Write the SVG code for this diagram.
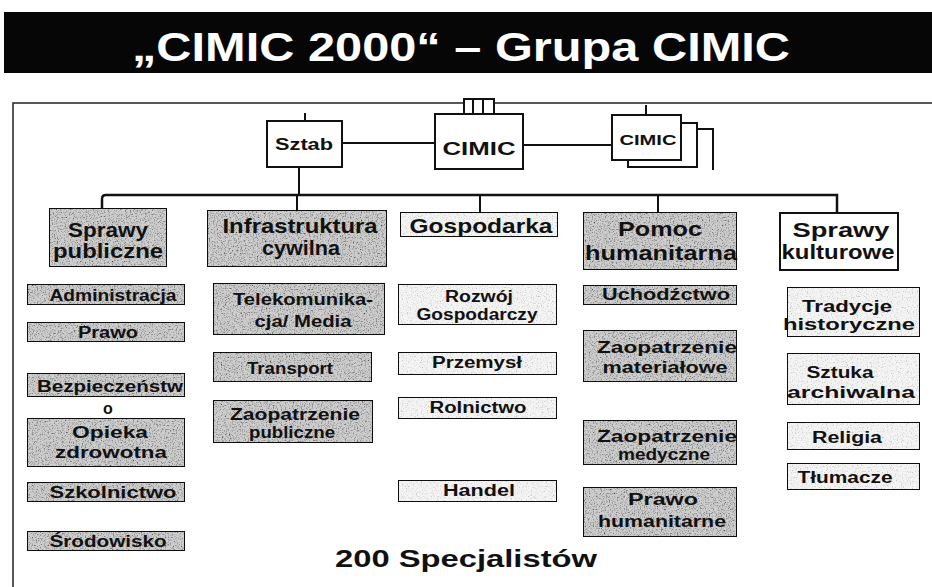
<svg xmlns="http://www.w3.org/2000/svg" width="932" height="587" viewBox="0 0 932 587">
  <defs>
    <style>
      .box { stroke: #111; stroke-width: 2; }
      .g { fill: #d0d0d0; filter: url(#grain); }
      .w { fill: #f4f4f4; filter: url(#grainLight); }
      .wh { fill: #ffffff; }
      .t { font-family: "Liberation Sans", Arial, sans-serif; font-weight: bold; text-anchor: middle; fill: #111; }
      .h { font-size: 21px; }
      .s { font-size: 16px; }
      .ln { fill: none; stroke: #111; stroke-width: 2; }
      .bus { fill: none; stroke: #111; stroke-width: 2.5; }
    </style>
    <!-- speckled halftone fill for the shaded boxes -->
    <filter id="grain" x="0" y="0" width="100%" height="100%">
      <feTurbulence type="fractalNoise" baseFrequency="0.75" numOctaves="2" seed="4" result="n"/>
      <feColorMatrix in="n" type="matrix" values="2.2 0 0 0 -0.2  2.2 0 0 0 -0.2  2.2 0 0 0 -0.2  0 0 0 0 1" result="ng"/>
      <feComposite in="ng" in2="SourceGraphic" operator="in" result="nc"/>
      <feBlend in="SourceGraphic" in2="nc" mode="multiply"/>
    </filter>
    <filter id="grainLight" x="0" y="0" width="100%" height="100%">
      <feTurbulence type="fractalNoise" baseFrequency="0.8" numOctaves="2" seed="9" result="n"/>
      <feColorMatrix in="n" type="matrix" values="1.4 0 0 0 0.35  1.4 0 0 0 0.35  1.4 0 0 0 0.35  0 0 0 0 1" result="ng"/>
      <feComposite in="ng" in2="SourceGraphic" operator="in" result="nc"/>
      <feBlend in="SourceGraphic" in2="nc" mode="multiply"/>
    </filter>
  </defs>

  <rect width="932" height="587" fill="#ffffff"/>

  <!-- Title band -->
  <g id="title">
    <rect x="4" y="12" width="928" height="61" fill="#060606"/>
    <text x="461" y="61" font-family="Liberation Sans, Arial, sans-serif" font-weight="bold" font-size="40" fill="#ffffff" text-anchor="middle" textLength="658" lengthAdjust="spacingAndGlyphs">„CIMIC 2000“ – Grupa CIMIC</text>
  </g>

  <!-- Frame -->
  <path d="M13,587 V103 H932" fill="none" stroke="#222" stroke-width="1.5"/>

  <!-- Connectors -->
  <g id="connectors">
    <path class="ln" d="M305,113 V121"/>
    <path class="ln" d="M646,105 V115"/>
    <path class="ln" d="M342,143 H435"/>
    <path class="ln" d="M523,145 H612"/>
    <path class="ln" d="M299,167 V195"/>
    <path class="bus" d="M102,208 V199 Q102,195 106,195 H837 V212"/>
    <path class="ln" d="M297,195 V210"/>
    <path class="ln" d="M480,195 V212"/>
    <path class="ln" d="M658,195 V212"/>
  </g>

  <!-- Command level -->
  <g id="sztab">
    <rect class="box wh" x="267" y="121" width="75" height="46"/>
    <text class="t" x="304" y="150" font-size="16" textLength="58" lengthAdjust="spacingAndGlyphs">Sztab</text>
  </g>
  <g id="cimic-main">
    <rect class="box wh" x="464" y="99" width="30" height="15" stroke-width="1.5"/>
    <path class="ln" d="M473,99 V114 M483,99 V114" stroke-width="1.5"/>
    <rect class="box wh" x="435" y="114" width="88" height="55"/>
    <text class="t" x="479" y="155" font-size="18" textLength="73" lengthAdjust="spacingAndGlyphs">CIMIC</text>
  </g>
  <g id="cimic-units">
    <path class="ln" d="M697,129 H713 V170"/>
    <path class="ln" d="M681,123 H697 V167 H628 V160"/>
    <rect class="box wh" x="612" y="115" width="69" height="45"/>
    <text class="t" x="648" y="145" font-size="14" textLength="57" lengthAdjust="spacingAndGlyphs">CIMIC</text>
  </g>

  <!-- Column 1: Sprawy publiczne -->
  <g id="sprawy-publiczne">
    <rect class="box g" x="49" y="208" width="118" height="59"/>
    <text class="t h" x="108" y="237" textLength="80" lengthAdjust="spacingAndGlyphs">Sprawy</text>
    <text class="t h" x="108" y="258" textLength="110" lengthAdjust="spacingAndGlyphs">publiczne</text>
  </g>
  <g id="administracja">
    <rect class="box g" x="27" y="284" width="158" height="21"/>
    <text class="t s" x="113" y="301" textLength="127" lengthAdjust="spacingAndGlyphs">Administracja</text>
  </g>
  <g id="prawo">
    <rect class="box g" x="27" y="322" width="158" height="20"/>
    <text class="t s" x="108" y="338" textLength="60" lengthAdjust="spacingAndGlyphs">Prawo</text>
  </g>
  <g id="bezpieczenstwo">
    <rect class="box g" x="27" y="373" width="158" height="24"/>
    <text class="t s" x="110" y="392" textLength="146" lengthAdjust="spacingAndGlyphs">Bezpieczeństw</text>
    <text class="t s" x="108" y="414">o</text>
  </g>
  <g id="opieka">
    <rect class="box g" x="27" y="418" width="158" height="49"/>
    <text class="t s" x="110" y="438" textLength="76" lengthAdjust="spacingAndGlyphs">Opieka</text>
    <text class="t s" x="111" y="458" textLength="112" lengthAdjust="spacingAndGlyphs">zdrowotna</text>
  </g>
  <g id="szkolnictwo">
    <rect class="box g" x="27" y="482" width="158" height="20"/>
    <text class="t s" x="113" y="498" textLength="127" lengthAdjust="spacingAndGlyphs">Szkolnictwo</text>
  </g>
  <g id="srodowisko">
    <rect class="box g" x="27" y="531" width="158" height="20"/>
    <text class="t s" x="108" y="547" textLength="117" lengthAdjust="spacingAndGlyphs">Środowisko</text>
  </g>

  <!-- Column 2: Infrastruktura cywilna -->
  <g id="infrastruktura">
    <rect class="box g" x="207" y="210" width="180" height="57"/>
    <text class="t h" x="300" y="233" textLength="155" lengthAdjust="spacingAndGlyphs">Infrastruktura</text>
    <text class="t h" x="301" y="255" textLength="78" lengthAdjust="spacingAndGlyphs">cywilna</text>
  </g>
  <g id="telekomunikacja">
    <rect class="box g" x="213" y="283" width="172" height="52"/>
    <text class="t s" x="303" y="305" textLength="140" lengthAdjust="spacingAndGlyphs">Telekomunika-</text>
    <text class="t s" x="303" y="327" textLength="97" lengthAdjust="spacingAndGlyphs">cja/ Media</text>
  </g>
  <g id="transport">
    <rect class="box g" x="213" y="352" width="159" height="30"/>
    <text class="t s" x="290" y="374" textLength="86" lengthAdjust="spacingAndGlyphs">Transport</text>
  </g>
  <g id="zaopatrzenie-publiczne">
    <rect class="box g" x="213" y="400" width="160" height="43"/>
    <text class="t s" x="295" y="420" textLength="130" lengthAdjust="spacingAndGlyphs">Zaopatrzenie</text>
    <text class="t s" x="292" y="438" textLength="86" lengthAdjust="spacingAndGlyphs">publiczne</text>
  </g>

  <!-- Column 3: Gospodarka -->
  <g id="gospodarka">
    <rect class="box w" x="400" y="212" width="158" height="25"/>
    <text class="t h" x="481" y="233" textLength="143" lengthAdjust="spacingAndGlyphs">Gospodarka</text>
  </g>
  <g id="rozwoj">
    <rect class="box w" x="398" y="284" width="159" height="41"/>
    <text class="t s" x="479" y="302" textLength="68" lengthAdjust="spacingAndGlyphs">Rozwój</text>
    <text class="t s" x="477" y="320" textLength="121" lengthAdjust="spacingAndGlyphs">Gospodarczy</text>
  </g>
  <g id="przemysl">
    <rect class="box w" x="398" y="352" width="159" height="23"/>
    <text class="t s" x="477" y="368" textLength="90" lengthAdjust="spacingAndGlyphs">Przemysł</text>
  </g>
  <g id="rolnictwo">
    <rect class="box w" x="398" y="397" width="159" height="22"/>
    <text class="t s" x="478" y="413" textLength="97" lengthAdjust="spacingAndGlyphs">Rolnictwo</text>
  </g>
  <g id="handel">
    <rect class="box w" x="398" y="480" width="159" height="22"/>
    <text class="t s" x="479" y="496" textLength="72" lengthAdjust="spacingAndGlyphs">Handel</text>
  </g>

  <!-- Column 4: Pomoc humanitarna -->
  <g id="pomoc-humanitarna">
    <rect class="box g" x="583" y="212" width="154" height="58"/>
    <text class="t h" x="660" y="236" textLength="84" lengthAdjust="spacingAndGlyphs">Pomoc</text>
    <text class="t h" x="661" y="260" textLength="152" lengthAdjust="spacingAndGlyphs">humanitarna</text>
  </g>
  <g id="uchodzctwo">
    <rect class="box g" x="583" y="285" width="154" height="20"/>
    <text class="t s" x="666" y="300" textLength="128" lengthAdjust="spacingAndGlyphs">Uchodźctwo</text>
  </g>
  <g id="zaopatrzenie-materialowe">
    <rect class="box g" x="583" y="330" width="154" height="52"/>
    <text class="t s" x="667" y="353" textLength="140" lengthAdjust="spacingAndGlyphs">Zaopatrzenie</text>
    <text class="t s" x="665" y="373" textLength="125" lengthAdjust="spacingAndGlyphs">materiałowe</text>
  </g>
  <g id="zaopatrzenie-medyczne">
    <rect class="box g" x="583" y="420" width="154" height="45"/>
    <text class="t s" x="667" y="442" textLength="140" lengthAdjust="spacingAndGlyphs">Zaopatrzenie</text>
    <text class="t s" x="664" y="460" textLength="92" lengthAdjust="spacingAndGlyphs">medyczne</text>
  </g>
  <g id="prawo-humanitarne">
    <rect class="box g" x="583" y="487" width="154" height="50"/>
    <text class="t s" x="663" y="505" textLength="70" lengthAdjust="spacingAndGlyphs">Prawo</text>
    <text class="t s" x="662" y="527" textLength="128" lengthAdjust="spacingAndGlyphs">humanitarne</text>
  </g>

  <!-- Column 5: Sprawy kulturowe -->
  <g id="sprawy-kulturowe">
    <rect class="box wh" x="780" y="213" width="118" height="57"/>
    <text class="t h" x="841" y="237" textLength="97" lengthAdjust="spacingAndGlyphs">Sprawy</text>
    <text class="t h" x="838" y="259" textLength="113" lengthAdjust="spacingAndGlyphs">kulturowe</text>
  </g>
  <g id="tradycje">
    <rect class="box w" x="787" y="287" width="133" height="50"/>
    <text class="t s" x="847" y="312" textLength="90" lengthAdjust="spacingAndGlyphs">Tradycje</text>
    <text class="t s" x="849" y="330" textLength="132" lengthAdjust="spacingAndGlyphs">historyczne</text>
  </g>
  <g id="sztuka">
    <rect class="box w" x="787" y="353" width="133" height="52"/>
    <text class="t s" x="840" y="378" textLength="67" lengthAdjust="spacingAndGlyphs">Sztuka</text>
    <text class="t s" x="851" y="398" textLength="128" lengthAdjust="spacingAndGlyphs">archiwalna</text>
  </g>
  <g id="religia">
    <rect class="box w" x="787" y="422" width="133" height="28"/>
    <text class="t s" x="847" y="443" textLength="70" lengthAdjust="spacingAndGlyphs">Religia</text>
  </g>
  <g id="tlumacze">
    <rect class="box w" x="787" y="463" width="133" height="27"/>
    <text class="t s" x="845" y="483" textLength="95" lengthAdjust="spacingAndGlyphs">Tłumacze</text>
  </g>

  <!-- Footer -->
  <text class="t" x="466" y="567" font-size="24" textLength="262" lengthAdjust="spacingAndGlyphs">200 Specjalistów</text>
</svg>
